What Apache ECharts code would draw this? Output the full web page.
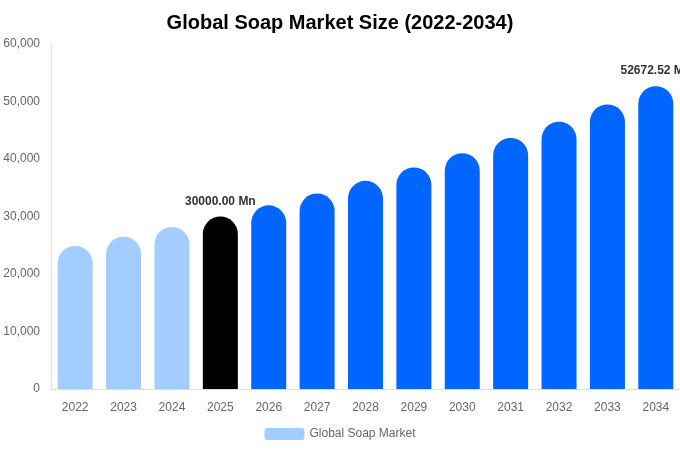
<!DOCTYPE html>
<html>
<head>
<meta charset="utf-8">
<script src="https://cdn.jsdelivr.net/npm/echarts@6/dist/echarts.min.js"></script>
<style>
    html, body { margin: 0; padding: 0; background: #fff; }
    #chart { width: 680px; height: 450px; }
</style>
</head>
<body>
<div id="chart"></div>
<script>
    // values
    var years = ['2022', '2023', '2024', '2025', '2026', '2027', '2028', '2029', '2030', '2031', '2032', '2033', '2034'];
    var marketSize = [24870, 26480, 28190, 30000, 31940, 34000, 36200, 38530, 41020, 43670, 46490, 49500, 52672.52];
    var barColors = ['#a2cdfd', '#a2cdfd', '#a2cdfd', '#000000', '#0066ff', '#0066ff', '#0066ff', '#0066ff', '#0066ff', '#0066ff', '#0066ff', '#0066ff', '#0066ff'];
    var labelled = ['2025', '2034'];

    var chart = echarts.init(document.getElementById('chart'));

    var option = {
        title: {
            text: 'Global Soap Market Size (2022-2034)',
            left: 'center',
            top: 8,
            textStyle: { fontSize: 20, fontWeight: 'bold', color: '#000', fontFamily: 'Liberation Sans, Arial, sans-serif' }
        },
        legend: {
            itemWidth: 40,
            itemHeight: 12,
            itemGap: 6,
            top: 423,
            data: [{ name: 'Global Soap Market', itemStyle: { color: '#a2cdfd' } }],
            textStyle: { color: '#666', fontSize: 12, fontFamily: 'Liberation Sans, Arial, sans-serif' }
        },
        grid: {
            left: 51,
            right: -1,
            top: 44,
            bottom: 61
        },
        xAxis: {
            type: 'category',
            data: years,
            axisLine: { lineStyle: { color: '#ddd' } },
            axisTick: { show: false },
            axisLabel: { color: '#666', fontSize: 12, margin: 13, fontFamily: 'Liberation Sans, Arial, sans-serif' }
        },
        yAxis: {
            type: 'value',
            min: 0,
            max: 60000,
            interval: 10000,
            axisLine: { show: true, lineStyle: { color: '#ddd' } },
            axisTick: { show: false },
            splitLine: { show: false },
            axisLabel: {
                color: '#666',
                fontSize: 12,
                margin: 11,
                fontFamily: 'Liberation Sans, Arial, sans-serif',
                formatter: function (v) { return v.toLocaleString('en-US'); }
            }
        },
        series: [{
            name: 'Global Soap Market',
            type: 'bar',
            barWidth: 35,
            data: marketSize.map(function (v, i) {
                return {
                    value: v,
                    itemStyle: { color: barColors[i], borderRadius: [17.5, 17.5, 0, 0] },
                    label: {
                        show: labelled.indexOf(years[i]) >= 0,
                        position: 'top',
                        distance: 9,
                        color: '#333',
                        fontWeight: 'bold',
                        fontSize: 12,
                        fontFamily: 'Liberation Sans, Arial, sans-serif',
                        formatter: function (p) { return p.value.toFixed(2) + ' Mn'; }
                    }
                };
            })
        }]
    };

    chart.setOption(option);
</script>
</body>
</html>
